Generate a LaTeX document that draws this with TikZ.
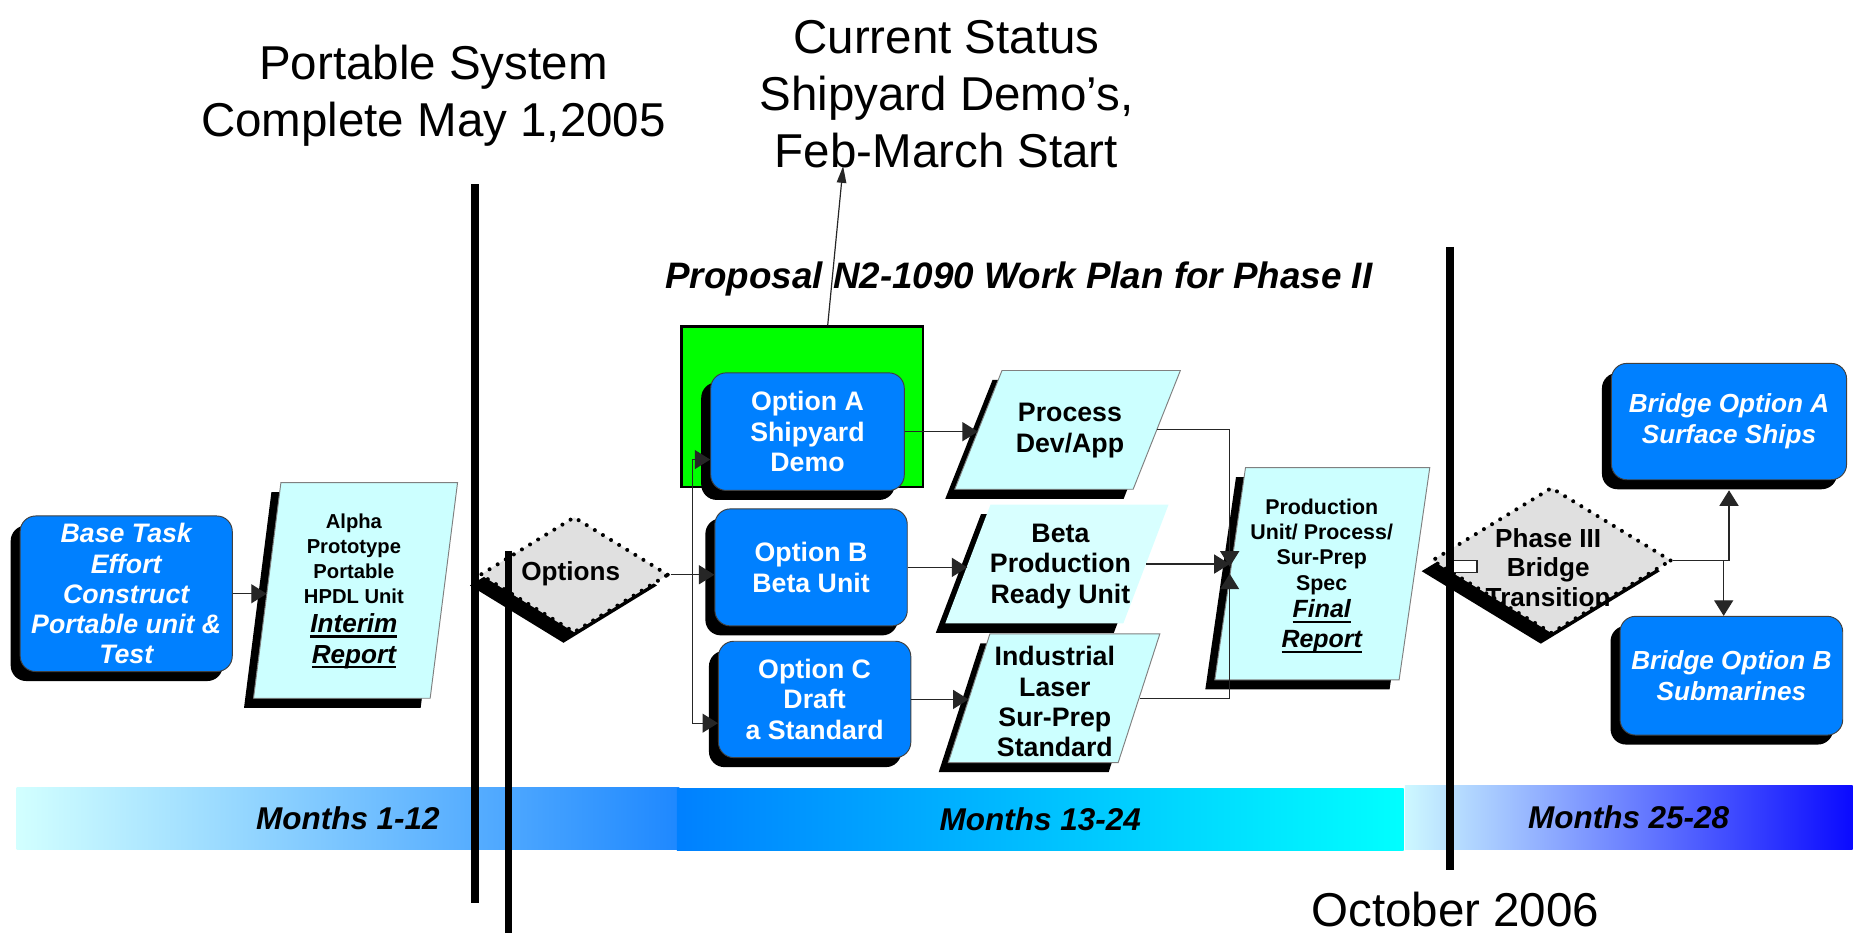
\documentclass[tikz,border=0pt]{standalone}
\usepackage{fontspec}
\setmainfont{Liberation Sans}
\usetikzlibrary{shapes.geometric,shadows,arrows.meta,backgrounds}

\definecolor{boxblue}{RGB}{0,128,255}
\definecolor{paracyan}{RGB}{204,255,255}
\definecolor{betacyan}{RGB}{216,255,255}
\definecolor{diagray}{RGB}{224,224,224}
\definecolor{demogreen}{RGB}{0,255,0}
\definecolor{barpale}{RGB}{210,255,255}
\definecolor{barmid}{RGB}{30,136,255}
\definecolor{barcyan}{RGB}{0,255,255}
\definecolor{barlight}{RGB}{205,248,255}
\definecolor{bardeep}{RGB}{10,10,255}

\newcommand\fsz[2]{\fontsize{#1}{#2}\selectfont}
\newcommand\ulbox[1]{\setbox0\hbox{#1}\leavevmode\rlap{\rule[-4.5pt]{\wd0}{1.8pt}}\box0}

\begin{document}
\begin{tikzpicture}[x=1pt,y=-1pt,>={Triangle[length=13pt,width=16pt]},
    shade box/.style={drop shadow={shadow xshift=-8pt,shadow yshift=-8pt,fill=black,opacity=1}},
    task/.style={shade box,draw=black!75,line width=0.8pt,fill=boxblue,rounded corners=13pt,
      inner sep=0pt,text=white,align=center,font=\fsz{22.5}{25.5}\bfseries},
    result/.style={shade box,trapezium,trapezium stretches=true,draw=black!50,line width=0.8pt,
      fill=paracyan,inner sep=1pt},
    decision/.style={drop shadow={shadow xshift=-9pt,shadow yshift=-9pt,fill=black,opacity=1},
      diamond,fill=diagray,draw=black,line width=3.4pt,dash pattern=on 0pt off 8pt,
      line cap=round,inner sep=1pt},
    boxtext/.style={align=center,font=\fsz{22.5}{25.5}\bfseries},
    conn/.style={draw=black!85,line width=1pt},
    months/.style={minimum height=52pt,inner sep=0pt,font=\fsz{26.5}{28}\bfseries\itshape},
    milestone/.style={line width=6pt},
    note/.style={align=center,font=\fsz{40}{48}}]

    \fill[white] (0,0) rectangle (1568,785.7);
    \useasboundingbox (0,0) rectangle (1568,785.7);

    % Barras de meses
    \node[months,minimum width=558pt,left color=barpale,right color=barmid] (m1) at (293,689) {Months 1-12};
    \node[months,minimum width=612pt,left color=boxblue,right color=barcyan] (m2) at (876,690) {Months 13-24};
    \node[months,minimum width=377pt,minimum height=54pt,left color=barlight,right color=bardeep] (m3) at (1371.5,688.6) {Months 25-28};

    % Notas
    \node[note] (sys) at (365,81) {Portable System\\Complete May 1,2005};
    \node[note] (status) at (797,79) {Current Status\\Shipyard Demo’s,\\Feb-March Start};
    \node[font=\fsz{31}{34}\bfseries\itshape] (plan) at (858,235) {Proposal N2-1090 Work Plan for Phase II};
    \node[font=\fsz{40}{48}] (oct) at (1225.5,766) {October 2006};

    % Tarea base y prototipo
    \node[task,font=\fsz{22.5}{25.5}\bfseries\itshape,minimum width=178.6pt,minimum height=131pt] (base) at (106.3,500)
      {Base Task\\Effort\\Construct\\Portable unit \&\\Test};
    \node[result,trapezium left angle=79.6,trapezium right angle=100.4,minimum width=171.8pt,minimum height=181.6pt] (alpha) at (299.4,497.2) {};
    \node[boxtext,font=\fsz{17}{21}\bfseries] (alphaT) at (298,498)
      {Alpha\\Prototype\\Portable\\HPDL Unit\\[3pt]{\fsz{22}{21}\itshape\ulbox{Interim}}\\[5pt]{\fsz{22}{21}\itshape\ulbox{Report}}};

    % Opciones
    \node[decision,minimum width=159pt,minimum height=98pt] (opts) at (483.5,484) {};
    \node[boxtext,font=\fsz{22}{25}\bfseries] (optsT) at (480.6,483.5) {Options};

    \node[draw=black,line width=2pt,fill=demogreen,minimum width=203pt,minimum height=135pt,inner sep=0pt] (demo) at (675.5,342.5) {};
    \node[task,minimum width=163pt,minimum height=99pt] (optA) at (680,363.5) {Option A\\Shipyard\\Demo};
    \node[task,minimum width=162pt,minimum height=98.5pt] (optB) at (683,477.8) {Option B\\Beta Unit};
    \node[task,minimum width=162pt,minimum height=98pt] (optC) at (686,589) {Option C\\Draft\\a Standard};

    % Resultados
    \node[result,trapezium left angle=70.2,trapezium right angle=109.8,minimum width=190pt,minimum height=100pt] (proc) at (899,362) {};
    \node[boxtext] (procT) at (901,362.5) {Process\\Dev/App};
    \node[result,fill=betacyan,draw=none,trapezium left angle=71.2,trapezium right angle=108.8,minimum width=188pt,minimum height=100pt] (beta) at (890,475) {};
    \node[boxtext] (betaT) at (893,477) {Beta\\Production\\Ready Unit};
    \node[result,trapezium left angle=72,trapezium right angle=108,minimum width=178.2pt,minimum height=108.4pt] (ind) at (887.6,588) {};
    \node[boxtext] (indT) at (888.3,591) {Industrial\\Laser\\Sur-Prep\\Standard};
    \node[result,trapezium left angle=78.7,trapezium right angle=101.3,minimum width=181pt,minimum height=178.8pt] (final) at (1113.5,483.2) {};
    \node[boxtext,font=\fsz{18}{21.3}\bfseries] (finalT) at (1113,485)
      {Production\\Unit/ Process/\\Sur-Prep\\Spec\\[2pt]{\fsz{21}{21}\itshape\ulbox{Final}}\\[4pt]{\fsz{21}{21}\itshape\ulbox{Report}}};

    % Fase III y puente
    \node[decision,minimum width=202pt,minimum height=123.5pt] (phase) at (1306.5,472) {};
    \node[boxtext,font=\fsz{22}{25}\bfseries] (phaseT) at (1303.7,478) {Phase III\\Bridge\\Transition};
    \node[task,font=\fsz{22}{26}\bfseries\itshape,minimum width=198pt,minimum height=98pt] (bridA) at (1456,355) {Bridge Option A\\Surface Ships};
    \node[task,font=\fsz{22}{26}\bfseries\itshape,minimum width=187.5pt,minimum height=100pt] (bridB) at (1458,569) {Bridge Option B\\Submarines};

    % Conectores
    \begin{scope}[on background layer]
      \draw[conn] (alpha.east) -- (alpha.east -| opts.west);
      \draw[conn] (final.east) -- (final.east -| phase.west);
    \end{scope}
    \draw[conn,->] (base.east) -- (base.east -| alpha.west);
    \draw[conn] (opts.east) -- ++(18.5,0) coordinate (fork);
    \draw[conn,->] (fork) |- ([yshift=-23.5pt]optA.west);
    \draw[conn,->] (fork) -- (fork -| optB.west);
    \draw[conn,->] (fork) |- ([yshift=-20pt]optC.west);
    \draw[conn,->] (optA.east) -- (optA.east -| proc.west);
    \draw[conn,->] (optB.east) -- (optB.east -| beta.west);
    \draw[conn,->] (optC.east) -- (optC.east -| ind.west);
    \draw[conn,->] (proc.east) -| ([yshift=6pt]final.west);
    \draw[conn,->] (beta.east) -- (beta.east -| final.west);
    \draw[conn,->] (ind.east) -| (final.west);
    \draw[conn,fill=white] ([xshift=18pt]phase.west) rectangle ([xshift=40pt,yshift=-10pt]phase.west);
    \draw[conn,->] (phase.east) -| ([yshift=-8.5pt]bridA.south);
    \draw[conn,->] ([xshift=-6.5pt]bridB.north |- phase.east) -- ([xshift=-6.5pt]bridB.north);
    \coordinate (tip) at (710,140);
    \draw[conn,-{Triangle[length=14pt,width=8pt]}] ([xshift=21.5pt]demo.north) -- (tip);

    % Hitos
    \draw[milestone] (400,155) -- (400,760);
    \draw[milestone] (428,463.7) -- (428,785.7);
    \draw[milestone] (1221,208) -- (1221,733);
\end{tikzpicture}
\end{document}
